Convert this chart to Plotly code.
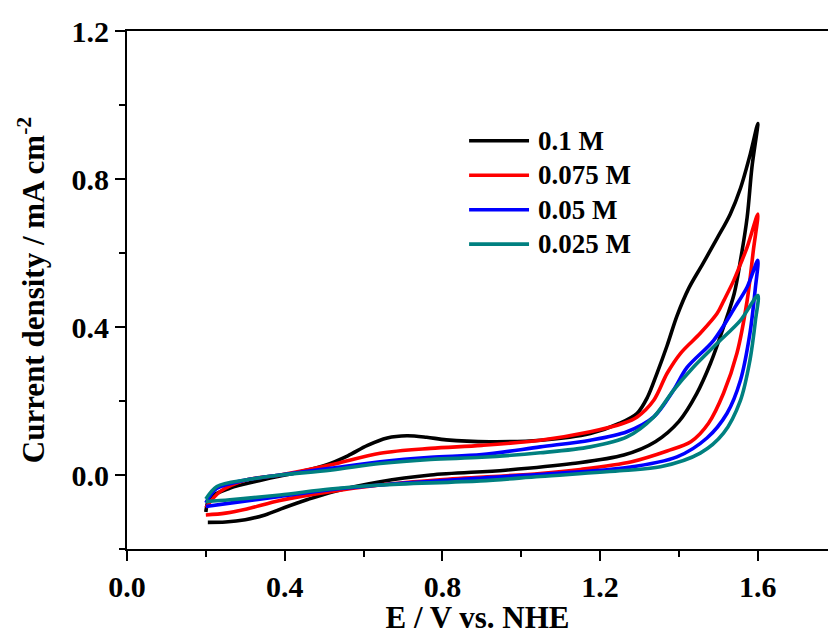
import plotly.graph_objects as go

# Cyclic voltammograms: forward scan 0.2 -> 1.6 V, then reverse back to 0.2 V
labels = ["0.1 M", "0.075 M", "0.05 M", "0.025 M"]
colors = ["#000000", "#ff0000", "#0000ff", "#008080"]

E_01 = [0.20, 0.21, 0.26, 0.345, 0.44, 0.507, 0.56, 0.61, 0.66, 0.71, 0.76, 0.81, 0.92, 1.05, 1.175, 1.25,
        1.294, 1.32, 1.344, 1.37, 1.395, 1.425, 1.46, 1.497, 1.53, 1.556, 1.581, 1.60,
        1.585, 1.573, 1.556, 1.54, 1.513, 1.48, 1.445, 1.40, 1.34, 1.26, 1.13, 0.96, 0.77,
        0.642, 0.523, 0.456, 0.40, 0.35, 0.30, 0.25, 0.205]
J_01 = [-0.100, -0.062, -0.036, -0.013, 0.009, 0.028, 0.052, 0.080, 0.100, 0.106, 0.102, 0.095, 0.090, 0.094, 0.112, 0.140,
        0.167, 0.210, 0.274, 0.350, 0.430, 0.505, 0.570, 0.640, 0.705, 0.775, 0.868, 0.950,
        0.831, 0.697, 0.580, 0.490, 0.400, 0.302, 0.220, 0.145, 0.090, 0.054, 0.031, 0.013, 0.000,
        -0.018, -0.045, -0.067, -0.088, -0.108, -0.121, -0.127, -0.128]

E_0075 = [0.20, 0.236, 0.304, 0.388, 0.515, 0.642, 0.77, 0.90, 1.048, 1.175, 1.259, 1.294, 1.336, 1.37,
          1.404, 1.454, 1.497, 1.514, 1.539, 1.556, 1.573, 1.60,
          1.589, 1.573, 1.547, 1.513, 1.475, 1.43, 1.37, 1.28, 1.15, 1.048, 0.794, 0.642, 0.515,
          0.388, 0.304, 0.25, 0.20]
J_0075 = [-0.088, -0.045, -0.013, 0.000, 0.027, 0.059, 0.072, 0.080, 0.094, 0.117, 0.140, 0.157, 0.202, 0.275,
          0.329, 0.383, 0.437, 0.472, 0.526, 0.570, 0.616, 0.705,
          0.610, 0.472, 0.329, 0.221, 0.140, 0.090, 0.065, 0.036, 0.015, 0.004, -0.013, -0.027, -0.045,
          -0.069, -0.092, -0.103, -0.108]

E_005 = [0.20, 0.228, 0.304, 0.388, 0.515, 0.642, 0.77, 0.90, 1.048, 1.175, 1.268, 1.336, 1.386, 1.42,
         1.488, 1.543, 1.573, 1.60,
         1.594, 1.58, 1.556, 1.522, 1.471, 1.395, 1.268, 1.10, 0.90, 0.642, 0.515, 0.388, 0.261, 0.20]
J_005 = [-0.075, -0.036, -0.013, 0.000, 0.018, 0.036, 0.048, 0.055, 0.076, 0.094, 0.117, 0.157, 0.229, 0.290,
         0.364, 0.455, 0.508, 0.580,
         0.508, 0.383, 0.256, 0.167, 0.100, 0.049, 0.020, 0.005, -0.008, -0.027, -0.040, -0.058, -0.076, -0.085]

E_0025 = [0.20, 0.228, 0.304, 0.388, 0.515, 0.642, 0.77, 0.90, 1.048, 1.175, 1.268, 1.336, 1.386, 1.437,
          1.497, 1.556, 1.60,
          1.594, 1.58, 1.556, 1.513, 1.454, 1.353, 1.259, 1.048, 0.896, 0.642, 0.515, 0.388, 0.261, 0.20]
J_0025 = [-0.065, -0.031, -0.013, 0.000, 0.013, 0.031, 0.042, 0.048, 0.060, 0.076, 0.103, 0.157, 0.229, 0.292,
          0.356, 0.418, 0.485,
          0.418, 0.310, 0.202, 0.113, 0.059, 0.022, 0.012, -0.004, -0.016, -0.027, -0.038, -0.054, -0.067, -0.072]

x_ticks = [0.0, 0.4, 0.8, 1.2, 1.6]
y_ticks = [0.0, 0.4, 0.8, 1.2]

series = [(E_01, J_01), (E_0075, J_0075), (E_005, J_005), (E_0025, J_0025)]

FONT = "Liberation Serif, Times New Roman, serif"

fig = go.Figure()
for (e, j), name, col in zip(series, labels, colors):
    fig.add_trace(go.Scatter(
        x=e, y=j, mode="lines", name=name, showlegend=False,
        line=dict(color=col, width=3.6, shape="spline", smoothing=0.9),
    ))

# Legend drawn as short line samples with bold labels
leg_x0, leg_x1, leg_tx = 0.488, 0.5735, 0.5835
leg_top, leg_step = 0.788, 0.0665
for i, (name, col) in enumerate(zip(labels, colors)):
    yy = leg_top - i * leg_step
    fig.add_shape(type="line", xref="paper", yref="paper", x0=leg_x0, x1=leg_x1, y0=yy, y1=yy,
                  line=dict(color=col, width=3.6))
    fig.add_annotation(xref="paper", yref="paper", x=leg_tx, y=yy, xanchor="left", yanchor="middle",
                       text="<b>%s</b>" % name, showarrow=False,
                       font=dict(family=FONT, size=27, color="black"))

axis_common = dict(
    showline=True, linecolor="black", linewidth=2,
    ticks="outside", ticklen=10, tickwidth=2, tickcolor="black",
    showgrid=False, zeroline=False,
    tickfont=dict(family=FONT, size=30, color="black"),
)

fig.update_xaxes(
    range=[0, 1.778], tickvals=x_ticks, ticktext=["<b>%.1f</b>" % v for v in x_ticks],
    mirror=True,
    minor=dict(dtick=0.2, ticks="outside", ticklen=6, tickwidth=2, tickcolor="black"),
    title=dict(text="<b>E / V vs. NHE</b>", font=dict(family=FONT, size=31, color="black"), standoff=4),
    **axis_common,
)
fig.update_yaxes(
    range=[-0.2, 1.2], tickvals=y_ticks, ticktext=["<b>%.1f</b>" % v for v in y_ticks],
    minor=dict(dtick=0.2, ticks="outside", ticklen=6, tickwidth=2, tickcolor="black"),
    title=dict(text="<b>Current density / mA cm<sup>-2</sup></b>",
               font=dict(family=FONT, size=31, color="black"), standoff=18),
    **axis_common,
)

fig.update_layout(
    width=828, height=635,
    margin=dict(l=127, r=0, t=31, b=86, autoexpand=False),
    plot_bgcolor="white", paper_bgcolor="white",
)

fig.write_html("out.html")
